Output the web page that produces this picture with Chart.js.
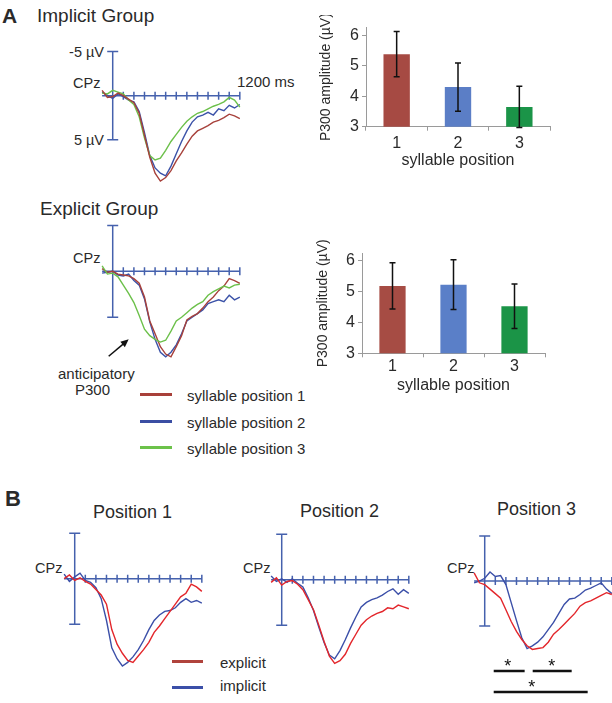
<!DOCTYPE html>
<html><head><meta charset="utf-8">
<script src="https://cdn.jsdelivr.net/npm/chart.js@4/dist/chart.umd.min.js"></script>
<style>
html,body{margin:0;padding:0;background:#fff;}
body{width:612px;height:703px;position:relative;overflow:hidden;font-family:"Liberation Sans",Arial,Helvetica,sans-serif;color:#2a2a2a;}
.t{position:absolute;white-space:nowrap;line-height:1;}
canvas{position:absolute;}
.lg{position:absolute;height:2.5px;}
</style></head><body>

<div class="t" style="left:2px;top:5px;font-size:21px;font-weight:bold;">A</div>
<div class="t" style="left:37px;top:6px;font-size:19px;">Implicit Group</div>
<div class="t" style="right:508px;top:45px;font-size:14.5px;">-5 µV</div>
<div class="t" style="left:73px;top:76px;font-size:14.5px;">CPz</div>
<div class="t" style="right:508px;top:133px;font-size:14.5px;">5 µV</div>
<div class="t" style="left:237px;top:74px;font-size:15px;">1200 ms</div>

<div class="t" style="left:40px;top:199px;font-size:19px;">Explicit Group</div>
<div class="t" style="left:73px;top:251px;font-size:14.5px;">CPz</div>
<div class="t" style="left:58px;top:366px;font-size:15px;">anticipatory</div>
<div class="t" style="left:75px;top:382px;font-size:15px;">P300</div>

<div class="lg" style="left:140px;top:393px;width:32px;background:#a8403a;"></div>
<div class="lg" style="left:140px;top:420px;width:32px;background:#3b4ea3;"></div>
<div class="lg" style="left:140px;top:446px;width:32px;background:#6cc24a;"></div>
<div class="t" style="left:187px;top:388px;font-size:15px;">syllable position 1</div>
<div class="t" style="left:187px;top:415px;font-size:15px;">syllable position 2</div>
<div class="t" style="left:187px;top:441px;font-size:15px;">syllable position 3</div>

<div class="t" style="left:5px;top:488px;font-size:22px;font-weight:bold;">B</div>
<div class="t" style="left:93px;top:503px;font-size:18px;">Position 1</div>
<div class="t" style="left:300px;top:502px;font-size:18px;">Position 2</div>
<div class="t" style="left:497px;top:500px;font-size:18px;">Position 3</div>
<div class="t" style="left:35px;top:561px;font-size:14.5px;">CPz</div>
<div class="t" style="left:243px;top:561px;font-size:14.5px;">CPz</div>
<div class="t" style="left:447px;top:561px;font-size:14.5px;">CPz</div>

<div class="lg" style="left:172px;top:660px;width:31px;background:#b0433c;"></div>
<div class="lg" style="left:172px;top:686px;width:31px;background:#3b4fa8;"></div>
<div class="t" style="left:220px;top:655px;font-size:15px;">explicit</div>
<div class="t" style="left:220px;top:678px;font-size:15px;">implicit</div>

<script>
// ---------- data ----------
const TIMES = [-100,-50,0,50,100,150,200,250,300,350,400,450,500,550,600,650,700,750,800,850,900,950,1000,1050,1100,1150,1200];
const X_TICKS = [100,200,300,400,500,600,700,800,900,1000,1100,1200];

// Panel A, implicit group (µV, positive plotted downward)
const implicitPos1 = [-0.6,0.2,0.1,-0.3,0.0,0.4,0.8,2.0,4.5,7.0,8.8,9.7,9.3,8.5,7.4,6.5,5.5,4.6,4.0,3.7,3.4,3.0,2.8,2.5,2.1,2.3,2.6];
const implicitPos2 = [-0.4,0.0,0.3,-0.2,0.1,0.5,0.7,1.8,4.2,6.8,8.2,8.8,9.1,8.0,6.6,5.2,4.0,3.0,2.4,2.2,1.9,2.2,1.5,1.7,1.1,1.4,1.0];
const implicitPos3 = [-0.3,-0.2,-0.6,-0.4,-0.2,0.5,1.0,2.4,4.8,6.8,7.3,7.1,6.2,5.2,4.4,3.6,2.9,2.4,2.0,1.8,1.5,1.2,1.0,0.7,0.2,0.5,1.3];
// Panel A, explicit group
const explicitPos1 = [-0.3,0.1,0.0,0.3,0.4,0.5,0.8,1.3,2.8,5.4,6.8,8.2,9.0,9.3,8.2,7.0,5.3,4.9,4.6,4.0,3.3,2.8,2.1,1.6,0.8,1.0,1.3];
const explicitPos2 = [0.2,0.1,0.0,0.4,0.5,0.3,1.0,1.5,3.0,5.5,7.4,8.8,9.3,8.8,8.0,6.8,5.4,5.0,4.6,4.2,3.5,3.3,3.1,3.3,2.6,3.1,2.8];
const explicitPos3 = [-0.6,0.3,0.2,0.6,1.5,2.4,3.4,4.8,6.3,7.0,7.4,7.7,7.5,6.5,5.4,5.0,4.5,4.0,3.6,3.3,2.6,2.2,1.9,1.6,1.8,1.5,1.4];
// Panel B
const bPos1Explicit = [0.0,-0.4,0.2,-0.1,0.3,0.6,1.2,1.8,2.8,5.6,7.2,8.2,9.0,9.2,8.5,7.8,7.0,5.9,5.2,4.4,3.6,2.8,2.0,1.6,0.6,0.9,1.4];
const bPos1Implicit = [-0.5,0.3,-0.2,-0.6,0.2,0.4,1.0,2.2,4.6,7.6,8.8,9.6,9.2,8.6,7.8,6.8,5.6,4.6,4.0,3.6,3.5,3.2,2.6,2.2,2.6,2.4,2.7];
const bPos2Explicit = [0.3,-0.2,0.6,0.2,0.1,0.5,1.1,2.2,3.3,5.0,6.8,8.4,9.2,8.9,8.2,7.0,6.0,5.0,4.4,4.0,3.7,3.5,3.1,3.2,2.8,3.0,3.2];
const bPos2Implicit = [-0.4,0.2,-0.1,0.3,-0.1,0.4,0.8,2.0,3.4,5.2,6.9,8.3,8.7,7.8,6.6,5.3,4.1,3.0,2.5,2.2,2.0,1.7,1.3,1.0,1.6,1.1,1.5];
const bPos3Explicit = [-0.9,0.2,0.4,0.9,1.4,1.9,3.2,4.5,5.6,6.5,7.2,7.6,7.5,7.4,6.8,5.9,5.4,4.8,4.2,3.6,2.8,2.4,2.2,1.9,1.6,1.3,1.5];
const bPos3Implicit = [0.2,0.0,-0.3,-1.0,-0.5,-0.6,0.4,2.4,4.4,6.3,7.5,7.2,6.8,6.2,5.4,4.6,3.6,2.6,2.0,1.9,1.5,1.0,0.8,0.5,0.2,0.9,1.4];

// Bar charts
const POSITIONS = ['1','2','3'];
const implicitP300 = [5.38,4.30,3.65];
const implicitErr  = [0.74,0.79,0.68];
const explicitP300 = [5.19,5.23,4.53];
const explicitErr  = [0.75,0.81,0.72];

// significance windows in Position 3 (ms): [start, end, star position]
const sigWindows = [[85,377,217],[453,821,632]];
const sigWindowAll = [85,972,443];

// ---------- drawing ----------
Chart.defaults.font.family = '"Liberation Sans", Arial, Helvetica, sans-serif';
const AXIS = '#4561ad';
const PX_MS = 0.106;
const X_MIN = -120, X_MAX = 1230, Y_MIN = -7, Y_MAX = 14;

function addCanvas(left, top, w, h) {
  const c = document.createElement('canvas');
  c.width = Math.round(w); c.height = Math.round(h);
  c.style.left = Math.round(left) + 'px'; c.style.top = Math.round(top) + 'px';
  document.body.appendChild(c);
  return c;
}

function erp(zeroX, zeroY, ppu, series, extra) {
  const c = addCanvas(zeroX + X_MIN * PX_MS, zeroY + Y_MIN * ppu, (X_MAX - X_MIN) * PX_MS, (Y_MAX - Y_MIN) * ppu);
  new Chart(c, {
    type: 'line',
    data: { datasets: series.map(s => ({
      data: TIMES.map((t, i) => ({ x: t, y: s.values[i] })),
      borderColor: s.color, borderWidth: 1.4, pointRadius: 0, fill: false, tension: 0
    })) },
    options: {
      responsive: false, animation: false, layout: { padding: 0 },
      plugins: { legend: { display: false }, tooltip: { enabled: false } },
      scales: {
        x: { type: 'linear', min: X_MIN, max: X_MAX, display: false },
        y: { type: 'linear', min: Y_MIN, max: Y_MAX, reverse: true, display: false }
      }
    },
    plugins: [{
      id: 'erpAxes',
      beforeDatasetsDraw(chart) {
        const { ctx, scales: { x, y } } = chart;
        ctx.save();
        ctx.strokeStyle = AXIS; ctx.lineWidth = 1.5;
        ctx.beginPath();
        const y0 = y.getPixelForValue(0);
        ctx.moveTo(x.getPixelForValue(-100), y0); ctx.lineTo(x.getPixelForValue(1200), y0);
        for (const t of X_TICKS) { const px = x.getPixelForValue(t); ctx.moveTo(px, y0 - 4); ctx.lineTo(px, y0 + 4); }
        const x0 = x.getPixelForValue(0);
        const yt = y.getPixelForValue(-5), yb = y.getPixelForValue(5);
        ctx.moveTo(x0, yt); ctx.lineTo(x0, yb);
        ctx.moveTo(x0 - 5.5, yt); ctx.lineTo(x0 + 5.5, yt);
        ctx.moveTo(x0 - 5.5, yb); ctx.lineTo(x0 + 5.5, yb);
        ctx.stroke(); ctx.restore();
      },
      afterDatasetsDraw(chart) { if (extra) extra(chart); }
    }]
  });
}

const RED_A = '#a7413b', BLUE_A = '#3b52a8', GREEN_A = '#6cc04a';
const RED_B = '#e3262b', BLUE_B = '#3b4fa8';

erp(113, 96, 8.8, [
  { values: implicitPos1, color: RED_A },
  { values: implicitPos3, color: GREEN_A },
  { values: implicitPos2, color: BLUE_A }
]);

erp(113, 271, 9.2, [
  { values: explicitPos3, color: GREEN_A },
  { values: explicitPos1, color: RED_A },
  { values: explicitPos2, color: BLUE_A }
], chart => {
  const { ctx, scales: { x, y } } = chart;
  const x1 = x.getPixelForValue(-38), y1 = y.getPixelForValue(9.24);
  const x2 = x.getPixelForValue(151), y2 = y.getPixelForValue(7.4);
  const ang = Math.atan2(y2 - y1, x2 - x1);
  ctx.save();
  ctx.strokeStyle = '#111'; ctx.fillStyle = '#111'; ctx.lineWidth = 1.5;
  ctx.beginPath(); ctx.moveTo(x1, y1); ctx.lineTo(x2 - 5 * Math.cos(ang), y2 - 5 * Math.sin(ang)); ctx.stroke();
  ctx.beginPath(); ctx.moveTo(x2, y2);
  ctx.lineTo(x2 - 8 * Math.cos(ang) + 3.5 * Math.sin(ang), y2 - 8 * Math.sin(ang) - 3.5 * Math.cos(ang));
  ctx.lineTo(x2 - 8 * Math.cos(ang) - 3.5 * Math.sin(ang), y2 - 8 * Math.sin(ang) + 3.5 * Math.cos(ang));
  ctx.closePath(); ctx.fill();
  ctx.restore();
});

erp(75, 579, 9.1, [
  { values: bPos1Explicit, color: RED_B },
  { values: bPos1Implicit, color: BLUE_B }
]);
erp(282, 580, 9.1, [
  { values: bPos2Explicit, color: RED_B },
  { values: bPos2Implicit, color: BLUE_B }
]);
erp(485, 581, 9.0, [
  { values: bPos3Explicit, color: RED_B },
  { values: bPos3Implicit, color: BLUE_B }
], chart => {
  const { ctx, scales: { x, y } } = chart;
  ctx.save();
  ctx.strokeStyle = '#111'; ctx.fillStyle = '#111'; ctx.lineWidth = 2.5;
  ctx.font = '18px "Liberation Sans", Arial, sans-serif';
  ctx.textAlign = 'center'; ctx.textBaseline = 'middle';
  const bar = (w, v) => {
    const py = y.getPixelForValue(v);
    ctx.beginPath(); ctx.moveTo(x.getPixelForValue(w[0]), py); ctx.lineTo(x.getPixelForValue(w[1]), py); ctx.stroke();
    ctx.fillText('*', x.getPixelForValue(w[2]), py - 4);
  };
  sigWindows.forEach(w => bar(w, 10.0));
  bar(sigWindowAll, 12.33);
  ctx.restore();
});

function barChart(cfg) {
  const c = addCanvas(cfg.left, cfg.top, cfg.w, cfg.h);
  const gridOpts = { display: true, drawOnChartArea: false, drawTicks: true, tickLength: 4, color: '#9a9a9a' };
  new Chart(c, {
    type: 'bar',
    data: { labels: POSITIONS, datasets: [{ data: cfg.values, backgroundColor: cfg.colors, barPercentage: 0.43, categoryPercentage: 1 }] },
    options: {
      responsive: false, animation: false,
      layout: { padding: { left: cfg.padL, top: cfg.padT, right: cfg.padR, bottom: 0 } },
      plugins: { legend: { display: false }, tooltip: { enabled: false } },
      scales: {
        x: {
          grid: gridOpts, border: { display: true, color: '#9a9a9a', width: 1 },
          ticks: { font: { size: 16 }, color: '#2a2a2a', padding: cfg.xPad },
          title: { display: true, text: 'syllable position', font: { size: 16 }, color: '#2a2a2a', padding: 0 },
          afterFit(s) { s.height = cfg.xH; }
        },
        y: {
          min: 3, max: 6.25,
          grid: gridOpts, border: { display: true, color: '#9a9a9a', width: 1 },
          ticks: { stepSize: 1, includeBounds: false, font: { size: 16 }, color: '#2a2a2a', padding: 3 },
          title: { display: true, text: 'P300 amplitude (µV)', font: { size: 14 }, color: '#2a2a2a', padding: 0 },
          afterFit(s) { s.width = cfg.yW; }
        }
      }
    },
    plugins: [{
      id: 'errBars',
      afterDatasetsDraw(chart) {
        const { ctx } = chart; const y = chart.scales.y;
        const meta = chart.getDatasetMeta(0);
        ctx.save(); ctx.strokeStyle = '#111'; ctx.lineWidth = 1.5;
        meta.data.forEach((el, i) => {
          const v = cfg.values[i], e = cfg.errs[i];
          const t = y.getPixelForValue(v + e), b = y.getPixelForValue(v - e);
          ctx.beginPath();
          ctx.moveTo(el.x, t); ctx.lineTo(el.x, b);
          ctx.moveTo(el.x - 3, t); ctx.lineTo(el.x + 3, t);
          ctx.moveTo(el.x - 3, b); ctx.lineTo(el.x + 3, b);
          ctx.stroke();
        });
        ctx.restore();
      }
    }]
  });
}

barChart({ left: 300, top: 15, w: 260, h: 155, padL: 17.6, padT: 12.3, padR: 10, yW: 48.4, xH: 43.3, xPad: 3,
  values: implicitP300, errs: implicitErr, colors: ['#a64a43', '#5b7ec6', '#1b9448'] });
barChart({ left: 300, top: 240, w: 255, h: 155, padL: 14.6, padT: 13.3, padR: 10, yW: 47.4, xH: 41.7, xPad: 0,
  values: explicitP300, errs: explicitErr, colors: ['#a64c44', '#5a7fc8', '#1b9447'] });
</script>
</body></html>
